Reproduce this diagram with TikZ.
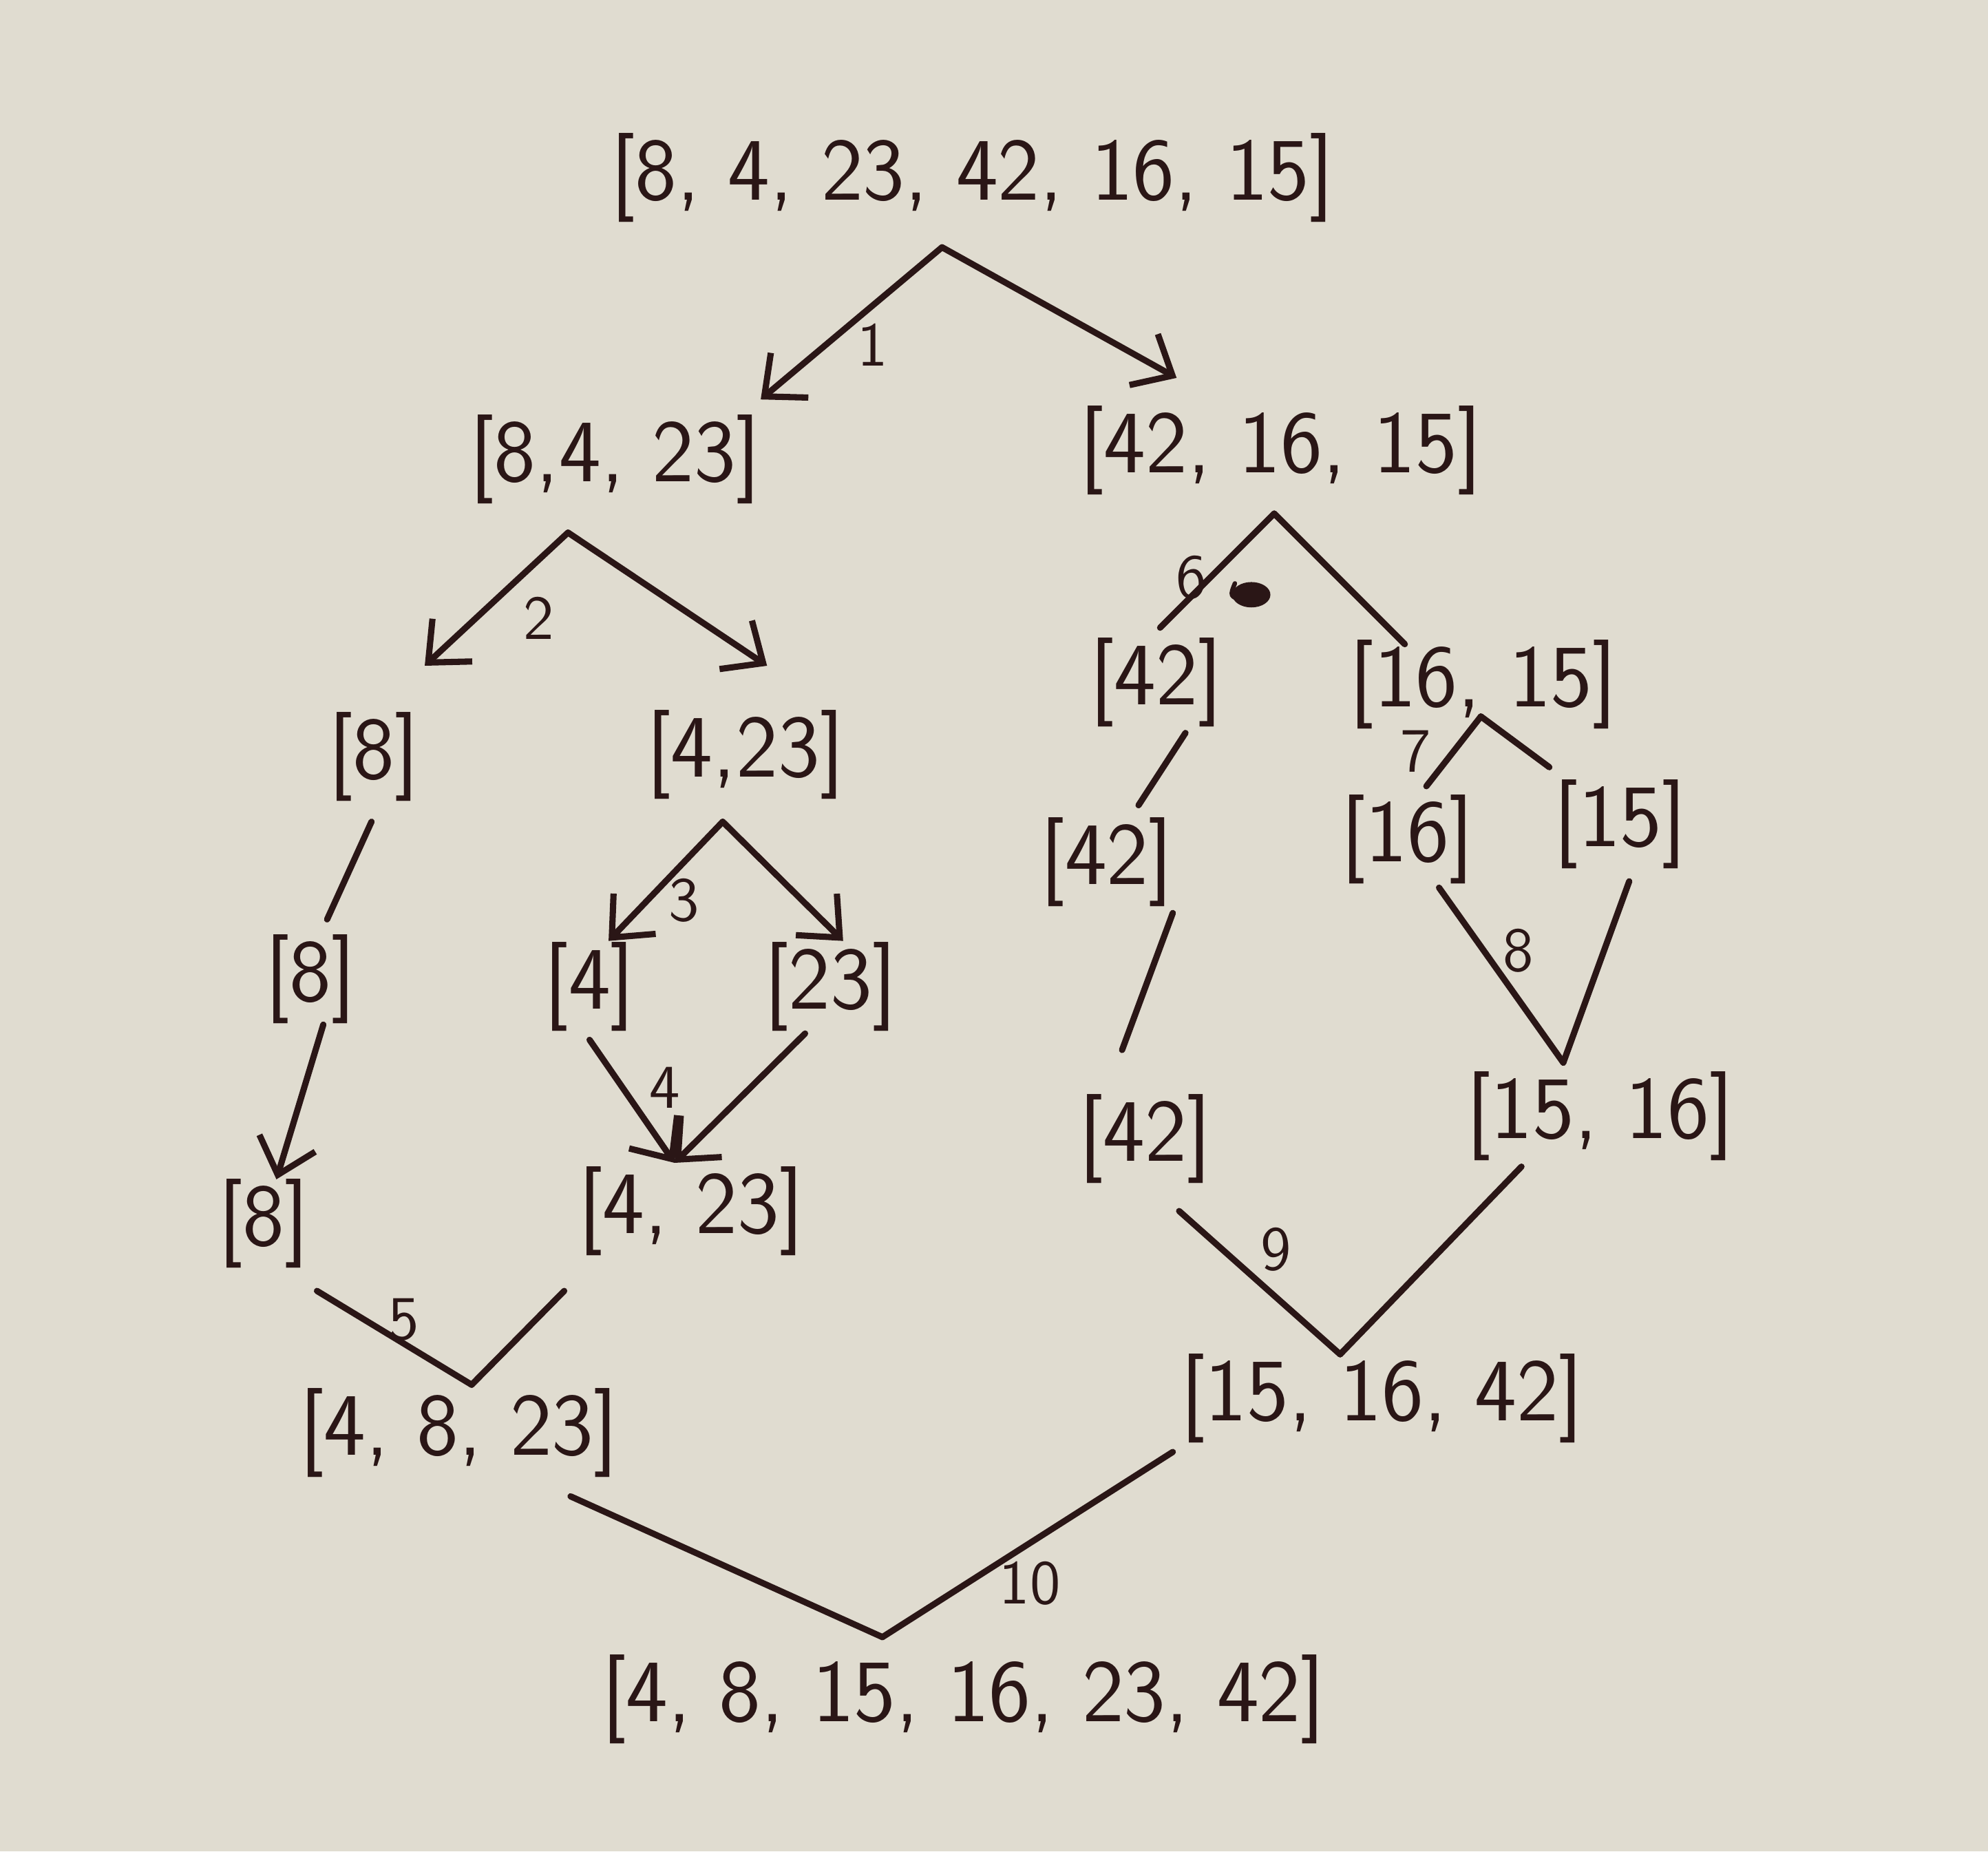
\documentclass[tikz,border=0pt]{standalone}
\usepackage{fontspec}
\usepackage{tikz}
\usetikzlibrary{calc,arrows,arrows.meta,positioning}
\definecolor{paper}{RGB}{224,220,208}
\definecolor{ink}{RGB}{42,22,22}

\begin{document}
\begin{tikzpicture}[line width=1.4pt, >={Straight Barb[length=2.6mm,width=4.6mm]}]
\tikzstyle{lst}=[inner sep=1pt, text=ink, font=\sffamily\fontsize{20}{24}\selectfont]
\tikzstyle{lbl}=[inner sep=1pt, text=ink, font=\sffamily\fontsize{14}{16}\selectfont]
\tikzstyle{pen}=[draw=ink, line cap=round]
\fill[paper] (0,0) rectangle (15.68,-14.60);
\useasboundingbox (0,0) rectangle (15.68,-14.60);
% splitting
\node[lst] (a) at (7.67,-1.40) {[8, 4, 23, 42, 16, 15]};
\node[lst] (b) at (4.85,-3.62) {[8,4, 23]};
\node[lst] (c) at (10.10,-3.55) {[42, 16, 15]};
\node[lst] (d) at (2.95,-5.97) {[8]};
\node[lst] (e) at (5.88,-5.95) {[4,23]};
\node[lst] (f) at (9.12,-5.38) {[42]};
\node[lst] (g) at (11.70,-5.40) {[16, 15]};
\node[lst] (h) at (8.73,-6.80) {[42]};
\node[lst] (i) at (11.10,-6.62) {[16]};
\node[lst] (j) at (12.78,-6.50) {[15]};
\node[lst] (k) at (2.45,-7.72) {[8]};
\node[lst] (l) at (4.65,-7.78) {[4]};
\node[lst] (m) at (6.55,-7.78) {[23]};
% merging
\node[lst] (n) at (9.03,-8.98) {[42]};
\node[lst] (o) at (12.62,-8.80) {[15, 16]};
\node[lst] (p) at (2.08,-9.65) {[8]};
\node[lst] (q) at (5.45,-9.55) {[4, 23]};
\node[lst] (r) at (3.62,-11.30) {[4, 8, 23]};
\node[lst] (s) at (10.90,-11.03) {[15, 16, 42]};
\node[lst] (t) at (7.60,-13.40) {[4, 8, 15, 16, 23, 42]};

\coordinate (a-split) at (7.43,-1.95);
\draw[pen,->] (a-split) -- node[lbl,pos=.64,xshift=3.7mm]{1} ($(b)+(1.15,.47)$);
\draw[pen,->] (a-split) -- ($(c)+(-.82,.57)$);
\coordinate (b-split) at (4.48,-4.20);
\draw[pen,->] (b-split) -- node[lbl,pos=.64,xshift=4.9mm]{2} ($(d)+(.40,.72)$);
\draw[pen,->] (b-split) -- ($(e)+(.17,.70)$);
\coordinate (c-split) at (10.05,-4.05);
\draw[pen] (c-split) -- node[lbl,pos=.56,xshift=-1.5mm]{6} ($(f)+(.03,.43)$);
\draw[pen] (c-split) -- ($(g)+(-.62,.32)$);
\fill[ink] (9.87,-4.69) ellipse (.15 and .1);
\draw[pen,line width=1pt] (9.74,-4.60) .. controls (9.70,-4.70) .. (9.80,-4.74);
\draw[pen] ($(d)+(-.02,-.51)$) -- ($(k)+(.13,.47)$);
\coordinate (e-split) at (5.70,-6.48);
\draw[pen,->] (e-split) -- node[lbl,pos=.66,xshift=2.9mm]{3} ($(l)+(.15,.36)$);
\draw[pen,->] (e-split) -- ($(m)+(.10,.36)$);
\draw[pen] ($(f)+(.23,-.40)$) -- ($(h)+(.25,.45)$);
\coordinate (g-split) at (11.68,-5.65);
\draw[pen] (g-split) -- node[lbl,pos=.5,xshift=-3mm]{7} ($(i)+(.15,.42)$);
\draw[pen] (g-split) -- ($(j)+(-.56,.45)$);

\draw[pen,->] ($(k)+(.10,-.36)$) -- ($(p)+(.10,.35)$);
\coordinate (q-in) at (5.32,-9.17);
\draw[pen,->] ($(l)+(0,-.42)$) -- node[lbl,pos=.39,xshift=3.3mm]{4} (q-in);
\draw[pen,->] ($(m)+(-.20,-.37)$) -- (q-in);
\draw[pen] ($(h)+(.52,-.40)$) -- ($(n)+(-.18,.70)$);
\coordinate (o-in) at (12.33,-8.38);
\draw[pen] ($(i)+(.25,-.38)$) -- node[lbl,pos=.36,xshift=2.7mm]{8} (o-in);
\draw[pen] ($(j)+(.07,-.45)$) -- (o-in);
\coordinate (r-in) at (3.72,-10.92);
\draw[pen] ($(p)+(.42,-.53)$) -- node[lbl,pos=.56,yshift=1.9mm]{5} (r-in);
\draw[pen] ($(q)+(-1.00,-.63)$) -- (r-in);
\coordinate (s-in) at (10.57,-10.68);
\draw[pen] ($(n)+(.27,-.57)$) -- node[lbl,pos=.27,xshift=4.2mm]{9} (s-in);
\draw[pen] ($(o)+(-.62,-.40)$) -- (s-in);
\coordinate (t-in) at (6.96,-12.91);
\draw[pen] ($(r)+(.88,-.50)$) -- (t-in);
\draw[pen] ($(s)+(-1.65,-.42)$) -- node[lbl,pos=.71,xshift=5mm]{10} (t-in);
\end{tikzpicture}
\end{document}
